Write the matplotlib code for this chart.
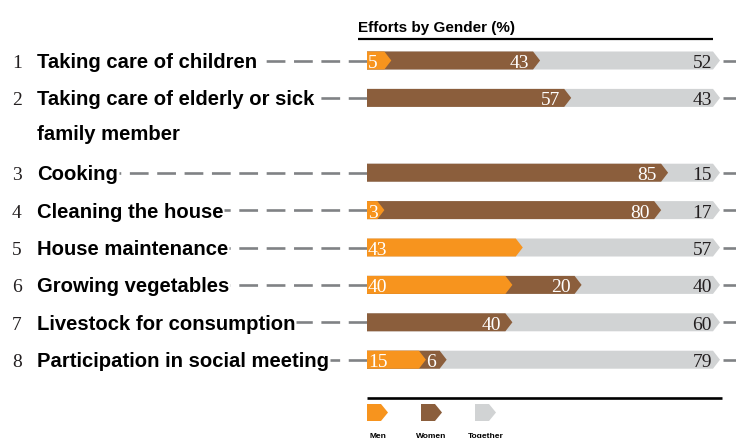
import matplotlib
matplotlib.use("Agg")
import matplotlib.pyplot as plt
from matplotlib.patches import Polygon
from matplotlib import font_manager

# ---------------------------------------------------------------- data
tasks = [
    "Taking care of children",
    "Taking care of elderly or sick\nfamily member",
    "Cooking",
    "Cleaning the house",
    "House maintenance",
    "Growing vegetables",
    "Livestock for consumption",
    "Participation in social meeting",
]
men      = [5, 0, 0, 3, 43, 40, 0, 15]
women    = [43, 57, 85, 80, 0, 20, 40, 6]
together = [52, 43, 15, 17, 57, 40, 60, 79]
series_names = ["Men", "Women", "Together"]

# ---------------------------------------------------------------- style
C_MEN   = "#F7941E"
C_WOMEN = "#8B5E3C"
C_TOG   = "#D1D3D4"
C_DASH  = "#808285"
C_INK   = "#231F20"

W, H = 736, 439
S = 3.46          # pixels per percent
X0 = 367          # pixel where 0 % sits
BAR_H = 18
TIP = 7 / S       # chevron tip length in percent units
ROW0, ROW_STEP = 61.5, 37.4
row_slots = [0, 1, 3, 4, 5, 6, 7, 8]   # row 2 takes two lines
rows_y = [ROW0 + ROW_STEP * k for k in row_slots]
LINE_GAP = 35     # second line of a wrapped label

names = {f.name for f in font_manager.fontManager.ttflist}
SANS = "Liberation Sans" if "Liberation Sans" in names else "DejaVu Sans"
SERIF = "Liberation Serif" if "Liberation Serif" in names else "DejaVu Serif"
plt.rcParams["lines.scale_dashes"] = False


def px(xp):
    """pixel x -> percent units of the axes"""
    return (xp - X0) / S


def chevron(ax, x0, x1, yc, color, h=BAR_H, tip=TIP, z=2):
    pts = [(x0, yc - h / 2), (x1, yc - h / 2), (x1 + tip, yc),
           (x1, yc + h / 2), (x0, yc + h / 2)]
    ax.add_patch(Polygon(pts, closed=True, facecolor=color,
                         edgecolor="none", zorder=z))


fig = plt.figure(figsize=(W / 100, H / 100), dpi=100)
ax = fig.add_axes([0, 0, 1, 1])
ax.set_xlim(px(0), px(W))
ax.set_ylim(H, 0)
ax.axis("off")

# header
ax.text(px(358), 32, "Efforts by Gender (%)", fontsize=11, fontweight="bold",
        family=SANS, color="black", va="baseline", ha="left")
ax.plot([px(358), px(713)], [40, 40], color="black", lw=1.6,
        solid_capstyle="butt")

labels = []
for i, (task, m, w, t, y) in enumerate(zip(tasks, men, women, together, rows_y)):
    # stacked chevrons, drawn right to left so the tips overlap
    chevron(ax, 0, m + w + t, y, C_TOG, z=2)
    if w > 0:
        chevron(ax, 0, m + w, y, C_WOMEN, z=3)
    if m > 0:
        chevron(ax, 0, m, y, C_MEN, z=4)

    tb = y + 6.5
    if m > 0:
        ax.text(0.3, tb, str(m), fontsize=14, family=SERIF, color="white",
                ha="left", va="baseline", zorder=5)
    if w > 0:
        ax.text(m + w - 4 / S, tb, str(w), fontsize=14, family=SERIF,
                color="white", ha="right", va="baseline", zorder=5)
    ax.text(m + w + t - 1 / S, tb, str(t), fontsize=14, family=SERIF,
            color=C_INK, ha="right", va="baseline", zorder=5)

    # row number + task label (one text per line)
    ax.text(px(17), tb, str(i + 1), fontsize=14, family=SERIF, color=C_INK,
            ha="center", va="baseline")
    lines = task.split("\n")
    first = None
    for k, line in enumerate(lines):
        tl = ax.text(px(37), tb + k * LINE_GAP, line, fontsize=14.6,
                     fontweight="bold", family=SANS, color="black",
                     ha="left", va="baseline")
        if k == 0:
            first = tl
    labels.append((first, y, m + w + t))

# dashed leaders from the end of each label's first line to the bar
fig.canvas.draw()
renderer = fig.canvas.get_renderer()
inv = ax.transData.inverted()
for lab, y, total in labels:
    bb = lab.get_window_extent(renderer)
    x_end = inv.transform((bb.x1, 0))[0]
    ax.plot([0, x_end + 1 / S], [y, y], color=C_DASH, lw=1.9,
            dashes=(13.5, 6.2), zorder=1)
    ax.plot([total + TIP + 3 / S, px(W)], [y, y], color=C_DASH, lw=1.9,
            solid_capstyle="butt", zorder=1)

# legend
ax.plot([0, px(722)], [399, 399], color="black", lw=1.9,
        solid_capstyle="butt")
for name, col, lx in zip(series_names, [C_MEN, C_WOMEN, C_TOG], [367, 421, 475]):
    chevron(ax, px(lx), px(lx + 14), 413.5, col, h=17, tip=7 / S)
    ax.text(px(lx + 10.5), 438, name, fontsize=6, fontweight="bold",
            family=SANS, color="black", ha="center", va="baseline")

fig.savefig("out.png", dpi=100)
